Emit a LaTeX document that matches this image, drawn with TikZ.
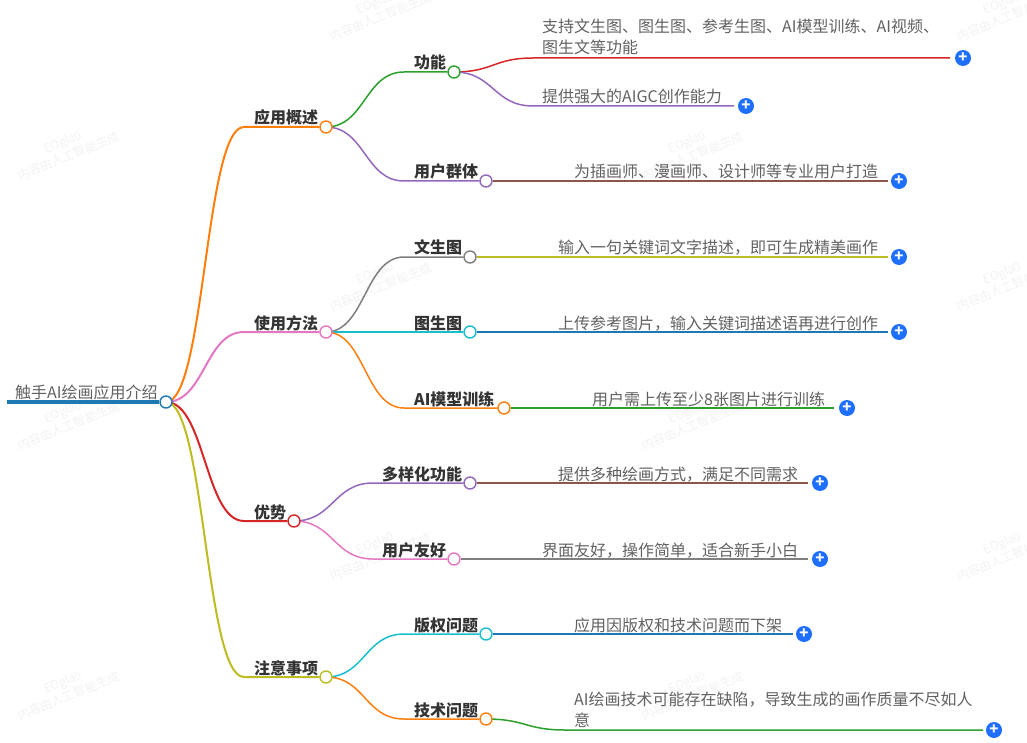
\documentclass[tikz,border=0pt]{standalone}
\usepackage{fontspec}
\setmainfont{Noto Sans CJK SC}
\usetikzlibrary{calc,positioning,backgrounds}

\definecolor{cblue}{HTML}{1F77B4}
\definecolor{corange}{HTML}{FF7F0E}
\definecolor{cgreen}{HTML}{2CA02C}
\definecolor{cred}{HTML}{D62728}
\definecolor{cpurple}{HTML}{9467BD}
\definecolor{cbrown}{HTML}{8C564B}
\definecolor{cpink}{HTML}{E377C2}
\definecolor{cgray}{HTML}{7F7F7F}
\definecolor{colive}{HTML}{BCBD22}
\definecolor{ccyan}{HTML}{17BECF}
\definecolor{cplus}{HTML}{1F6FFF}

% curve out of a hub, then straight on to the next node
\newcommand{\twig}[4]{
  \coordinate (mid) at ($(#2)!0.5!(#3)$);
  \draw[#1] (#2.center) .. controls (mid |- #2) and (mid |- #3) .. (#3) -- (#4);
}

\begin{document}
\begin{tikzpicture}[x=1pt,y=-1pt,
    hub/.style={circle, draw, fill=white, line width=1.4pt, minimum size=12pt, inner sep=0pt},
    topic/.style={anchor=base west, inner sep=0pt, text=black!80, font=\fontsize{16}{21}\selectfont\bfseries},
    leaf/.style={anchor=base west, inner sep=0pt, text=black!62, align=left, font=\fontsize{16}{21}\selectfont},
    plusbtn/.style={circle, fill=cplus, minimum size=16pt, inner sep=0pt, text=white, font=\fontsize{15}{15}\selectfont\bfseries},
    watermark/.style={text=black!5, rotate=22, align=center, font=\fontsize{12}{15}\selectfont},
    wire/.style={line width=1.5pt},
    limb/.style={line width=2pt}]

  \useasboundingbox (0,0) rectangle (1027,743);

  % hubs
  \node[hub,draw=cblue]   at (166,402) (root) {};
  \node[hub,draw=corange] at (326,127) (A) {};
  \node[hub,draw=cpink]   at (326,332) (B) {};
  \node[hub,draw=cred]    at (294,521) (C) {};
  \node[hub,draw=colive]  at (326,677) (D) {};
  \node[hub,draw=cgreen]  at (454,72)  (A1) {};
  \node[hub,draw=cpurple] at (486,181) (A2) {};
  \node[hub,draw=cgray]   at (470,257) (B1) {};
  \node[hub,draw=ccyan]   at (470,332) (B2) {};
  \node[hub,draw=corange] at (504,408) (B3) {};
  \node[hub,draw=cpurple] at (470,483) (C1) {};
  \node[hub,draw=cpink]   at (454,559) (C2) {};
  \node[hub,draw=ccyan]   at (486,634) (D1) {};
  \node[hub,draw=corange] at (486,719) (D2) {};

  % topic labels
  \node[leaf]  at (15,398)  (rootlabel) {触手AI绘画应用介绍};
  \node[topic] at (254,124) (Alabel)  {应用概述};
  \node[topic] at (254,329) (Blabel)  {使用方法};
  \node[topic] at (254,518) (Clabel)  {优势};
  \node[topic] at (254,674) (Dlabel)  {注意事项};
  \node[topic] at (414,69)  (A1label) {功能};
  \node[topic] at (414,178) (A2label) {用户群体};
  \node[topic] at (414,254) (B1label) {文生图};
  \node[topic] at (414,329) (B2label) {图生图};
  \node[topic] at (414,405) (B3label) {AI模型训练};
  \node[topic] at (382,480) (C1label) {多样化功能};
  \node[topic] at (382,556) (C2label) {用户友好};
  \node[topic] at (414,631) (D1label) {版权问题};
  \node[topic] at (414,716) (D2label) {技术问题};

  % leaf texts
  \node[leaf] at (542,54)  (t1)  {支持文生图、图生图、参考生图、AI模型训练、AI视频、\\图生文等功能};
  \node[leaf] at (542,103) (t2)  {提供强大的AIGC创作能力};
  \node[leaf] at (574,178) (t3)  {为插画师、漫画师、设计师等专业用户打造};
  \node[leaf] at (558,254) (t4)  {输入一句关键词文字描述，即可生成精美画作};
  \node[leaf] at (558,329) (t5)  {上传参考图片，输入关键词描述语再进行创作};
  \node[leaf] at (592,405) (t6)  {用户需上传至少8张图片进行训练};
  \node[leaf] at (558,480) (t7)  {提供多种绘画方式，满足不同需求};
  \node[leaf] at (542,556) (t8)  {界面友好，操作简单，适合新手小白};
  \node[leaf] at (574,631) (t9)  {应用因版权和技术问题而下架};
  \node[leaf] at (574,726) (t10) {AI绘画技术可能存在缺陷，导致生成的画作质量不尽如人\\意};

  % plus buttons
  \node[plusbtn] at (963,58)  (p1)  {+};
  \node[plusbtn] at (746,106) (p2)  {+};
  \node[plusbtn] at (899,181) (p3)  {+};
  \node[plusbtn] at (899,257) (p4)  {+};
  \node[plusbtn] at (899,332) (p5)  {+};
  \node[plusbtn] at (847,408) (p6)  {+};
  \node[plusbtn] at (820,483) (p7)  {+};
  \node[plusbtn] at (820,559) (p8)  {+};
  \node[plusbtn] at (804,634) (p9)  {+};
  \node[plusbtn] at (994,730) (p10) {+};

  % free ends and bends
  \coordinate (start) at (7,402);
  \coordinate (viaA)  at (244,127);
  \coordinate (viaB)  at (244,332);
  \coordinate (viaC)  at (244,521);
  \coordinate (viaD)  at (244,677);
  \coordinate (viaA1) at (404,72);
  \coordinate (viaA2) at (404,181);
  \coordinate (viaB1) at (404,257);
  \coordinate (viaB3) at (404,408);
  \coordinate (viaC1) at (373,483);
  \coordinate (viaC2) at (373,559);
  \coordinate (viaD1) at (404,634);
  \coordinate (viaD2) at (404,719);
  \coordinate (via1)  at (533,58);
  \coordinate (via2)  at (533,106);
  \coordinate (via10) at (565,730);
  \coordinate (e1)  at (950,58);
  \coordinate (e2)  at (734,106);
  \coordinate (e3)  at (888,181);
  \coordinate (e4)  at (888,257);
  \coordinate (e5)  at (888,332);
  \coordinate (e6)  at (834,408);
  \coordinate (e7)  at (808,483);
  \coordinate (e8)  at (808,559);
  \coordinate (e9)  at (793,634);
  \coordinate (e10) at (983,730);

  \begin{scope}[on background layer]
  % watermark
  \foreach \mx/\my [count=\i] in {66/149,66/419,66/689,690/149,690/419,690/689,
                                  378/10,378/280,378/550,1005/10,1005/280,1005/550}
    \node[watermark] (wm\i) at (\mx,\my) {EOgla0\\内容由人工智能生成};

  \path (start) edge[draw=cblue,line width=4pt] (root);

  \twig{corange,limb}{root}{viaA}{A}
  \twig{cpink,limb}{root}{viaB}{B}
  \twig{cred,limb}{root}{viaC}{C}
  \twig{colive,limb}{root}{viaD}{D}

  \twig{cgreen,wire}{A}{viaA1}{A1}
  \twig{cpurple,wire}{A}{viaA2}{A2}
  \twig{cgray,wire}{B}{viaB1}{B1}
  \path (B) edge[draw=ccyan,wire] (B2);
  \twig{corange,wire}{B}{viaB3}{B3}
  \twig{cpurple,wire}{C}{viaC1}{C1}
  \twig{cpink,wire}{C}{viaC2}{C2}
  \twig{ccyan,wire}{D}{viaD1}{D1}
  \twig{corange,wire}{D}{viaD2}{D2}

  \twig{cred,wire}{A1}{via1}{e1}
  \twig{cpurple,wire}{A1}{via2}{e2}
  \twig{cgreen,wire}{D2}{via10}{e10}
  \path (A2) edge[draw=cbrown,wire] (e3)
        (B1) edge[draw=colive,wire] (e4)
        (B2) edge[draw=cblue,wire]  (e5)
        (B3) edge[draw=cgreen,wire] (e6)
        (C1) edge[draw=cbrown,wire] (e7)
        (C2) edge[draw=cgray,wire]  (e8)
        (D1) edge[draw=cblue,wire]  (e9);
  \end{scope}

\end{tikzpicture}
\end{document}
